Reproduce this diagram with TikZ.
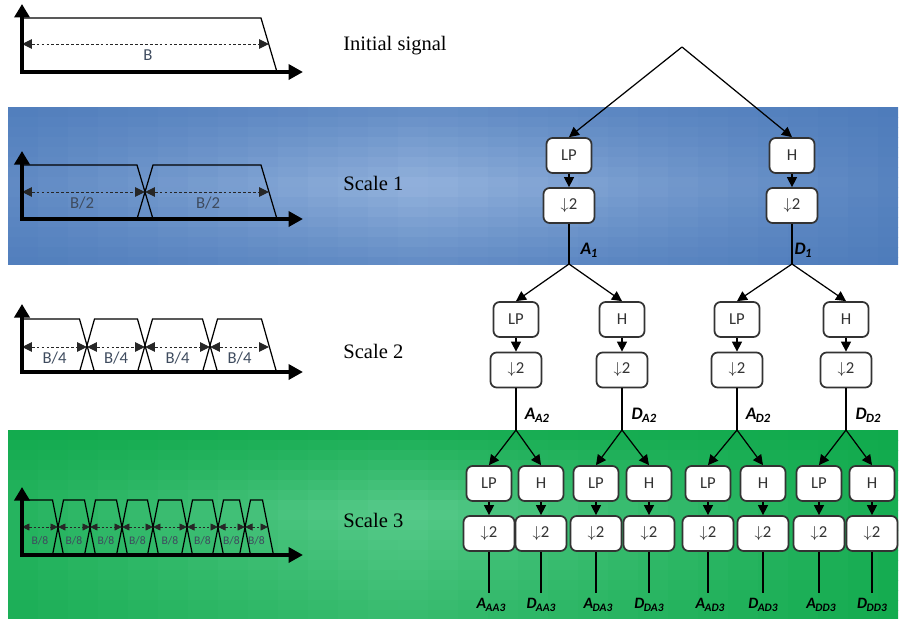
\documentclass[tikz,border=0pt]{standalone}
\usepackage{fontspec}
\setmainfont{Carlito}
\newfontfamily\capfont{Liberation Serif}
\usetikzlibrary{arrows.meta}
\definecolor{blueedge}{HTML}{4877B8}
\definecolor{bluemid}{HTML}{93B2DC}
\definecolor{greenedge}{HTML}{0FA94B}
\definecolor{greenmid}{HTML}{58CA8B}
\definecolor{bwtext}{HTML}{3E4B5E}
\newcommand{\subsig}[2]{\textbf{\textit{#1\kern-.3pt\raisebox{-.35ex}{\fontsize{.72em}{1em}\selectfont#2}}}}
\begin{document}
\begin{tikzpicture}[
    x=0.02cm, y=-0.02cm,
    axisline/.style={{Triangle[length=2.7mm,width=3mm]}-{Triangle[length=2.9mm,width=3mm]},line width=2.1pt},
    trap/.style={line width=.7pt},
    bwarrow/.style={{Triangle[length=2mm,width=1.9mm]}-{Triangle[length=2mm,width=1.9mm]},dash pattern=on 1.6pt off 1.2pt,line width=.55pt,draw=black!85},
    bwsmall/.style={{Triangle[length=1.5mm,width=1.4mm]}-{Triangle[length=1.5mm,width=1.4mm]},dash pattern=on 1.4pt off 1pt,line width=.45pt,draw=black!85},
    bwlabel/.style={text=bwtext,font=\fontsize{9.5}{10}\selectfont,inner sep=0pt},
    scalelabel/.style={anchor=west,font=\capfont\fontsize{11.7}{13}\selectfont,inner sep=0pt},
    blk/.style={draw=black!80,fill=white,rounded corners=3.5pt,line width=1pt,minimum width=.9cm,minimum height=.7cm,inner sep=0pt,text=black!80,font=\fontsize{9.5}{11}\selectfont},
    dnblk/.style={blk,minimum width=1.02cm},
    flow/.style={-{Triangle[length=2mm,width=2mm]},line width=.7pt},
    wire/.style={line width=.6pt},
    sig/.style={font=\fontsize{10}{11}\selectfont,inner sep=0pt},
    sigsmall/.style={font=\fontsize{9}{10}\selectfont,inner sep=0pt},
  ]
    \useasboundingbox (0,0) rectangle (900,619);
    % the two bands behind scale 1 and scale 3, lighter towards the middle
    \begin{scope}
      \clip (8,107) rectangle (898,264);
      \foreach \i in {0,...,29} \foreach \j in {0,...,15} {
        \pgfmathsetmacro{\mixp}{max(0,1-abs(\i*30+23-420)/600)*(1-0.65*min(1,abs(\j*10+112-186)/80))*100}
        \fill[bluemid!\mixp!blueedge] (8+\i*30,107+\j*10) rectangle (39+\i*30,118+\j*10);
      }
    \end{scope}
    \begin{scope}
      \clip (8,430) rectangle (898,618);
      \foreach \i in {0,...,29} \foreach \j in {0,...,18} {
        \pgfmathsetmacro{\mixp}{max(0,1-abs(\i*30+23-400)/560)*(1-(\j*10+435<510 ? 0.9*(510-\j*10-435)/80 : 0.45*(\j*10+435-510)/108))*100}
        \fill[greenmid!\mixp!greenedge] (8+\i*30,430+\j*10) rectangle (39+\i*30,441+\j*10);
      }
    \end{scope}

    % spectra on the left: bands split in two at every scale
    \draw[trap] (22,18) -- (261,18) -- (277,72);
    \draw[bwarrow] (22,44) -- (269,44);
    \node[bwlabel] (bw0) at (148,55) {B};
    \draw[axisline] (22,4) -- (22,72) -- (303,72);

    \draw[trap] (22,165) -- (137,165) -- (153,219);
    \draw[trap] (137,219) -- (153,165) -- (261,165) -- (277,219);
    \draw[bwarrow] (22,192) -- (145,192);
    \draw[bwarrow] (145,192) -- (269,192);
    \node[bwlabel] (bw1a) at (82,203) {B/2};
    \node[bwlabel] (bw1b) at (208,203) {B/2};
    \draw[axisline] (22,151) -- (22,219) -- (303,219);

    \draw[trap] (22,319) -- (79.5,319) -- (94.5,372);
    \foreach \l/\r in {87/145,145/210,210/269}
      \draw[trap] (\l-7.5,372) -- (\l+7.5,319) -- (\r-7.5,319) -- (\r+7.5,372);
    \foreach \l/\r [count=\i] in {22/87,87/145,145/210,210/269} {
      \draw[bwarrow] (\l,347) -- (\r,347);
      \node[bwlabel] (bw2\i) at ({(\l+\r)/2},358) {B/4};
    }
    \draw[axisline] (22,304) -- (22,372) -- (303,372);

    \draw[trap] (22,500) -- (52.5,500) -- (63.5,555);
    \foreach \l/\r in {58/90,90/122,122/153,153/187,187/218,218/245,245/268}
      \draw[trap] (\l-5.5,555) -- (\l+5.5,500) -- (\r-5.5,500) -- (\r+5.5,555);
    \foreach \l/\r [count=\i] in {22/58,58/90,90/122,122/153,153/187,187/218,218/245,245/268} {
      \draw[bwsmall] (\l,527) -- (\r,527);
      \node[bwlabel,font=\fontsize{6.6}{7}\selectfont] (bw3\i) at ({(\l+\r)/2},541) {B/8};
    }
    \draw[axisline] (22,487) -- (22,555) -- (303,555);

    \node[scalelabel] (sc0) at (343,46) {Initial signal};
    \node[scalelabel] (sc1) at (343,183) {Scale 1};
    \node[scalelabel] (sc2) at (343,351) {Scale 2};
    \node[scalelabel] (sc3) at (343,520) {Scale 3};

    % filter tree, level 1
    \coordinate (root) at (682,47);
    \node[blk] (fA) at (569,155.5) {LP};
    \node[dnblk] (dA) at (569,205.5) {$\downarrow$2};
    \node[blk] (fD) at (792,155.5) {H};
    \node[dnblk] (dD) at (792,205.5) {$\downarrow$2};
    \draw[flow] (root) -- (fA.north);
    \draw[flow] (root) -- (fD.north);
    \draw[flow] (fA) -- (dA);
    \draw[flow] (fD) -- (dD);
    \coordinate (jA) at (569,264);
    \coordinate (jD) at (792,264);
    \draw[wire] (dA) -- (jA);
    \draw[wire] (dD) -- (jD);
    \node[sig] (lA) at (589,250) {\subsig{A}{1}};
    \node[sig] (lD) at (803,250) {\subsig{D}{1}};

    % level 2
    \foreach \q/\xl/\xh in {A/516/622, D/737/846} {
      \node[blk] (fA\q) at (\xl,319.5) {LP};
      \node[dnblk] (dA\q) at (\xl,370) {$\downarrow$2};
      \node[blk] (fD\q) at (\xh,319.5) {H};
      \node[dnblk] (dD\q) at (\xh,370) {$\downarrow$2};
      \draw[flow] (j\q) -- (fA\q.north);
      \draw[flow] (j\q) -- (fD\q.north);
      \draw[flow] (fA\q) -- (dA\q);
      \draw[flow] (fD\q) -- (dD\q);
      \coordinate (jA\q) at (\xl,430);
      \coordinate (jD\q) at (\xh,430);
      \draw[wire] (dA\q) -- (jA\q);
      \draw[wire] (dD\q) -- (jD\q);
      \node[sig] (lA\q) at (\xl+21,415) {\subsig{A}{\q2}};
      \node[sig] (lD\q) at (\xh+22,415) {\subsig{D}{\q2}};
    }

    % level 3
    \foreach \q/\xl/\xh in {AA/489/541, DA/596/649, AD/708/763, DD/819/872} {
      \node[blk] (fA\q) at (\xl,483.5) {LP};
      \node[dnblk] (dA\q) at (\xl,533.5) {$\downarrow$2};
      \node[blk] (fD\q) at (\xh,483.5) {H};
      \node[dnblk] (dD\q) at (\xh,533.5) {$\downarrow$2};
      \draw[flow] (j\q) -- (fA\q.north);
      \draw[flow] (j\q) -- (fD\q.north);
      \draw[flow] (fA\q) -- (dA\q);
      \draw[flow] (fD\q) -- (dD\q);
      \coordinate (eA\q) at (\xl,593);
      \coordinate (eD\q) at (\xh,593);
      \draw[wire] (dA\q) -- (eA\q);
      \draw[wire] (dD\q) -- (eD\q);
      \node[sigsmall] (lA\q) at (\xl+2,605) {\subsig{A}{\q3}};
      \node[sigsmall] (lD\q) at (\xh,605) {\subsig{D}{\q3}};
    }
  \end{tikzpicture}
\end{document}
